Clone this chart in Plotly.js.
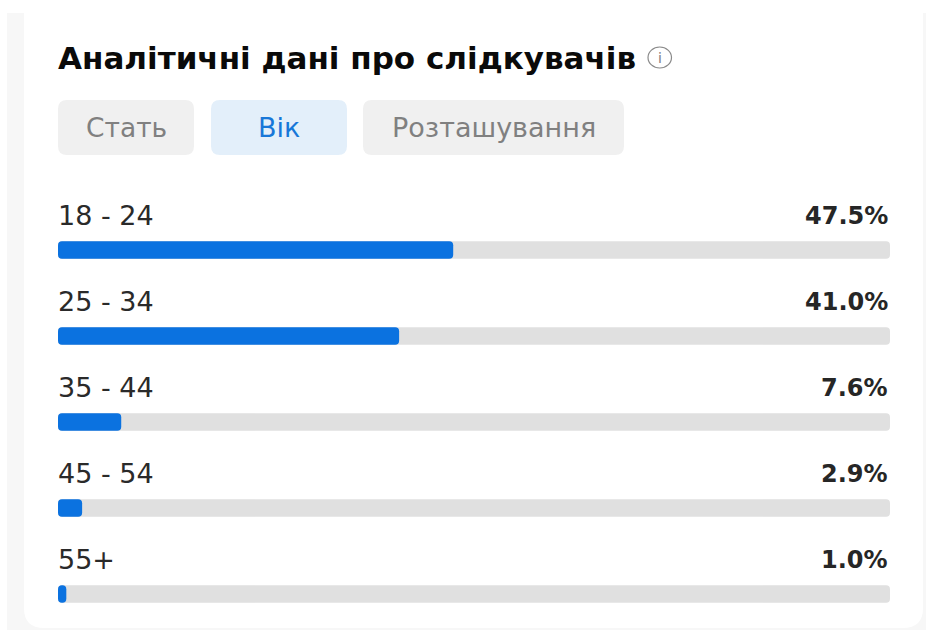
<!DOCTYPE html>
<html><head><meta charset="utf-8">
<script src="https://cdn.plot.ly/plotly-3.0.1.min.js"></script>
<style>html,body{margin:0;padding:0;background:#fff}</style></head><body>
<div id="chart" style="width:928px;height:630px"></div>
<script>
var categories = ["18 - 24","25 - 34","35 - 44","45 - 54","55+"];
var shares = [47.5,41.0,7.6,2.9,1.0];
var fullScale = [100,100,100,100,100];
var barStart = [0,0,0,0,0];
var chartTitle = "Аналітичні дані про слідкувачів";
var tabs = ["Стать","Вік","Розташування"];
var font = "DejaVu Sans";
var W=928,H=630;
function fx(p){return (p/W).toFixed(5);} 
function fy(p){return (1-p/H).toFixed(5);}
function rr(x0,y0,x1,y1,r){
  return "M"+fx(x0+r)+","+fy(y0)+" L"+fx(x1-r)+","+fy(y0)+
   " Q"+fx(x1)+","+fy(y0)+" "+fx(x1)+","+fy(y0+r)+
   " L"+fx(x1)+","+fy(y1-r)+" Q"+fx(x1)+","+fy(y1)+" "+fx(x1-r)+","+fy(y1)+
   " L"+fx(x0+r)+","+fy(y1)+" Q"+fx(x0)+","+fy(y1)+" "+fx(x0)+","+fy(y1-r)+
   " L"+fx(x0)+","+fy(y0+r)+" Q"+fx(x0)+","+fy(y0)+" "+fx(x0+r)+","+fy(y0)+" Z";
}
function pshape(path,fill){return {type:"path",xref:"paper",yref:"paper",path:path,fillcolor:fill,line:{width:0},layer:"below"};}
var shapes=[
 {type:"rect",xref:"paper",yref:"paper",x0:fx(7),x1:fx(926),y0:fy(630),y1:fy(13),fillcolor:"#f7f7f7",line:{width:0},layer:"below"},
 pshape(rr(24,-20,923,628,20),"#ffffff"),
 pshape(rr(58,100,194,155,9),"#f0f0f0"),
 pshape(rr(211,100,347,155,9),"#e3effa"),
 pshape(rr(363,100,624,155,9),"#f0f0f0"),
 {type:"circle",xref:"paper",yref:"paper",x0:fx(648),x1:fx(671.5),y0:fy(68),y1:fy(47),fillcolor:"rgba(0,0,0,0)",line:{color:"#8a8a8a",width:1.2},layer:"above"}
];
function txt(x,y,t,size,color,weight,anchor,fam){
  return {xref:"paper",yref:"paper",x:fx(x),y:fy(y),text:t,showarrow:false,xanchor:anchor||"left",yanchor:"middle",
   font:{family:fam||font,size:size,color:color,weight:weight||400}};
}
var annotations=[
 txt(56,58,chartTitle,31,"#0a0a0a",700),
 txt(659.7,57.5,"i",14,"#808080",400,"center"),
 txt(126,128,tabs[0],26.5,"#808080",400,"center"),
 txt(279,128,tabs[1],27,"#1877d8",400,"center"),
 txt(493.5,128,tabs[2],27,"#808080",400,"center")
];
categories.forEach(function(c,i){
 annotations.push({xref:"x",yref:"y",x:0,y:c,text:c,showarrow:false,xanchor:"left",yanchor:"middle",yshift:35,xshift:-2,
   font:{family:font,size:27,color:"#2a2a2a",weight:400}});
 annotations.push({xref:"x",yref:"y",x:100,y:c,text:shares[i].toFixed(1)+"%",showarrow:false,xanchor:"right",yanchor:"middle",yshift:34,xshift:0,
   font:{family:font,size:24,color:"#262626",weight:700}});
});
function barTrace(vals,color){
 return {type:"bar",orientation:"h",y:categories,x:vals,base:barStart,width:0.205,marker:{color:color},hoverinfo:"skip"};
}
var traces=[barTrace(fullScale,"#e0e0e0"),barTrace(shares,"#0b72e0")];
var layout={width:W,height:H,margin:{l:0,r:0,t:0,b:0,pad:0},paper_bgcolor:"#ffffff",plot_bgcolor:"rgba(0,0,0,0)",
 barmode:"overlay",barcornerradius:4,showlegend:false,
 xaxis:{domain:[58/W,890/W],range:[0,100],visible:false,fixedrange:true},
 yaxis:{type:"category",categoryorder:"array",categoryarray:categories,range:[380/86,-250/86],visible:false,fixedrange:true},
 shapes:shapes,annotations:annotations};
Plotly.newPlot("chart",traces,layout,{displayModeBar:false,staticPlot:true});
</script></body></html>
